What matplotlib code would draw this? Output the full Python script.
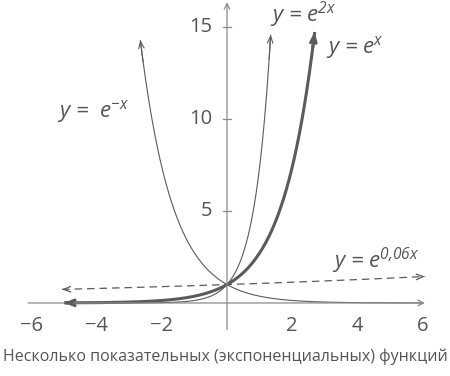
import numpy as np
import matplotlib
matplotlib.use("Agg")
import matplotlib.pyplot as plt

plt.rcParams['font.family'] = ['Open Sans', 'DejaVu Sans']
plt.rcParams['mathtext.fontset'] = 'custom'
plt.rcParams['mathtext.rm'] = 'Open Sans:italic'
plt.rcParams['mathtext.it'] = 'Open Sans:italic'

# curves y = e^(k x), drawn between x_from and x_to
rates = [1.0, 2.0, -1.0, 0.06]
x_from = [-5.0, -5.0, -2.66, -5.06]
x_to = [2.69, 1.34, 6.0, 6.07]
labels = ["y = e$^{x}$", "y = e$^{2x}$", "y =  e$^{-x}$", "y = e$^{0{,}06x}$"]
label_xy = [(3.93, 13.9), (2.33, 15.65), (-4.1, 10.4), (4.57, 2.3)]

xticks = [-6, -4, -2, 2, 4, 6]
yticks = [5, 10, 15]
caption = "Несколько показательных (экспоненциальных) функций"

col = "#5b5b5b"
axcol = "#8a8a8a"
txtcol = "#555555"

fig = plt.figure(figsize=(4.5, 3.76), dpi=100)
ax = fig.add_axes([0, 0, 1, 1])
ax.set_xlim(-6.963, 6.84)
ax.set_ylim(-3.97, 16.47)
ax.axis("off")

# axes with arrows
ax.annotate("", xy=(6.07, 0), xytext=(-6.1, 0),
            arrowprops=dict(arrowstyle="->", color=axcol, lw=0.9, shrinkA=0, shrinkB=0))
ax.annotate("", xy=(0, 16.35), xytext=(0, -1.45),
            arrowprops=dict(arrowstyle="->", color=axcol, lw=0.9, shrinkA=0, shrinkB=0))

for t in xticks:
    ax.text(t, -1.25, "\u2212%d" % -t if t < 0 else "%d" % t, ha="center", va="center",
            fontsize=14.5, color=txtcol)
for t in yticks:
    ax.plot([-0.12, 0.12], [t, t], color=axcol, lw=0.9)
    ax.text(-0.45, t, "%d" % t, ha="right", va="center", fontsize=14.5, color=txtcol)

head = "->,head_length=0.5,head_width=0.2"
for i, k in enumerate(rates):
    xs = np.linspace(x_from[i], x_to[i], 400)
    ys = np.exp(k * xs)
    if k == 1.0:
        lw, ls = 2.2, "-"
    elif k == 0.06:
        lw, ls = 0.9, (0, (6, 4))
    else:
        lw, ls = 0.8, "-"
    ax.plot(xs, ys, color=col, lw=lw, ls=ls, solid_capstyle="butt")
    if k > 0:
        ax.annotate("", xy=(xs[-1], ys[-1]), xytext=(xs[-4], ys[-4]),
                    arrowprops=dict(arrowstyle=head, color=col, lw=lw, shrinkA=0, shrinkB=0))
    if k in (1.0, 0.06, -1.0):
        ax.annotate("", xy=(xs[0], ys[0]), xytext=(xs[4], ys[4]),
                    arrowprops=dict(arrowstyle=head, color=col, lw=lw, shrinkA=0, shrinkB=0))
    ax.text(label_xy[i][0], label_xy[i][1], labels[i], ha="center", va="center",
            fontsize=16, fontstyle="italic", color=txtcol)

fig.text(0.5, 0.052, caption, ha="center", va="center", fontsize=11.5, color=txtcol)

fig.savefig("out.png", dpi=100)
